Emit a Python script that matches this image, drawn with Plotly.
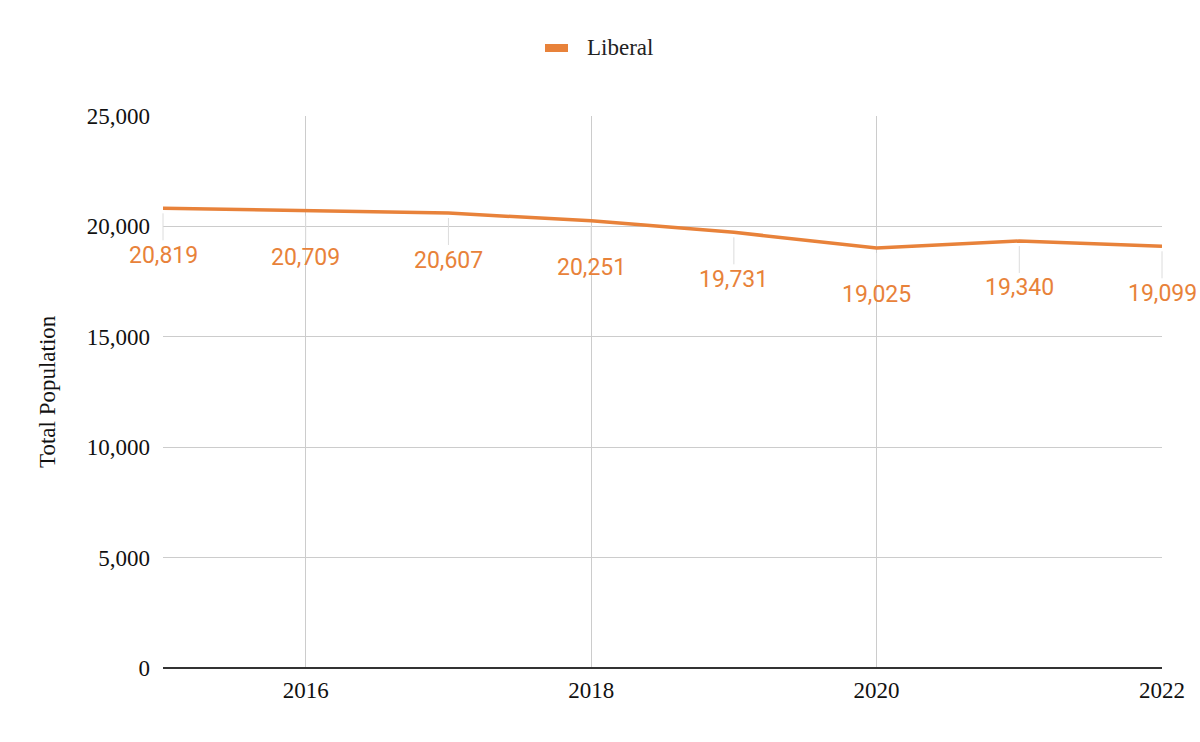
import plotly.graph_objects as go

years = [2015, 2016, 2017, 2018, 2019, 2020, 2021, 2022]
liberal = [20819, 20709, 20607, 20251, 19731, 19025, 19340, 19099]
series_name = "Liberal"
y_title = "Total Population"
x_ticks = [2016, 2018, 2020, 2022]
y_ticks = [0, 5000, 10000, 15000, 20000, 25000]

ORANGE = "#E8823A"
SERIF = "Liberation Serif"

fig = go.Figure()
fig.add_trace(go.Scatter(
    x=years, y=liberal, mode="lines", name=series_name,
    line=dict(color=ORANGE, width=3.5), showlegend=False,
    hoverinfo="x+y",
))

annotations = []
for x, y in zip(years, liberal):
    annotations.append(dict(
        x=x, y=y, xref="x", yref="y", text=f"{y:,}",
        showarrow=True, arrowhead=0, arrowwidth=1, arrowcolor="#dcdcdc",
        ax=0, ay=47, standoff=5,
        font=dict(family="Roboto", size=23, color=ORANGE),
    ))

# y axis title
annotations.append(dict(
    x=(47 - 163) / 999, y=0.5, xref="paper", yref="paper",
    text=y_title, showarrow=False, textangle=-90,
    xanchor="center", yanchor="middle",
    font=dict(family=SERIF, size=23, color="#111"),
))
# legend text
annotations.append(dict(
    x=(585 - 163) / 999, y=1 + (116 - 48) / 552, xref="paper", yref="paper",
    text=series_name, showarrow=False, xanchor="left", yanchor="middle",
    font=dict(family=SERIF, size=23, color="#222"),
))

shapes = [dict(
    type="rect", xref="paper", yref="paper",
    x0=(545 - 163) / 999, x1=(568 - 163) / 999,
    y0=1 + (116 - 52) / 552, y1=1 + (116 - 44) / 552,
    fillcolor=ORANGE, line=dict(width=0),
)]

fig.update_layout(
    width=1200, height=742,
    margin=dict(l=163, r=38, t=116, b=74),
    paper_bgcolor="white", plot_bgcolor="white",
    annotations=annotations, shapes=shapes,
    showlegend=False,
    xaxis=dict(
        range=[2015, 2022], tickvals=x_ticks, ticktext=[str(t) for t in x_ticks],
        showgrid=True, gridcolor="#cccccc", gridwidth=1,
        zeroline=False, showline=False, ticks="",
        ticklabelstandoff=6,
        tickfont=dict(family=SERIF, size=23, color="#111"),
    ),
    yaxis=dict(
        range=[0, 25000], tickvals=y_ticks, tickformat=",",
        showgrid=True, gridcolor="#cccccc", gridwidth=1,
        zeroline=True, zerolinecolor="#333333", zerolinewidth=2,
        showline=False, ticks="",
        ticklabelstandoff=12,
        tickfont=dict(family=SERIF, size=23, color="#111"),
    ),
)

fig.write_html(
    "out.html",
    config={"displayModeBar": False},
    post_script="document.body.style.margin='0';document.body.style.overflow='hidden';",
)
